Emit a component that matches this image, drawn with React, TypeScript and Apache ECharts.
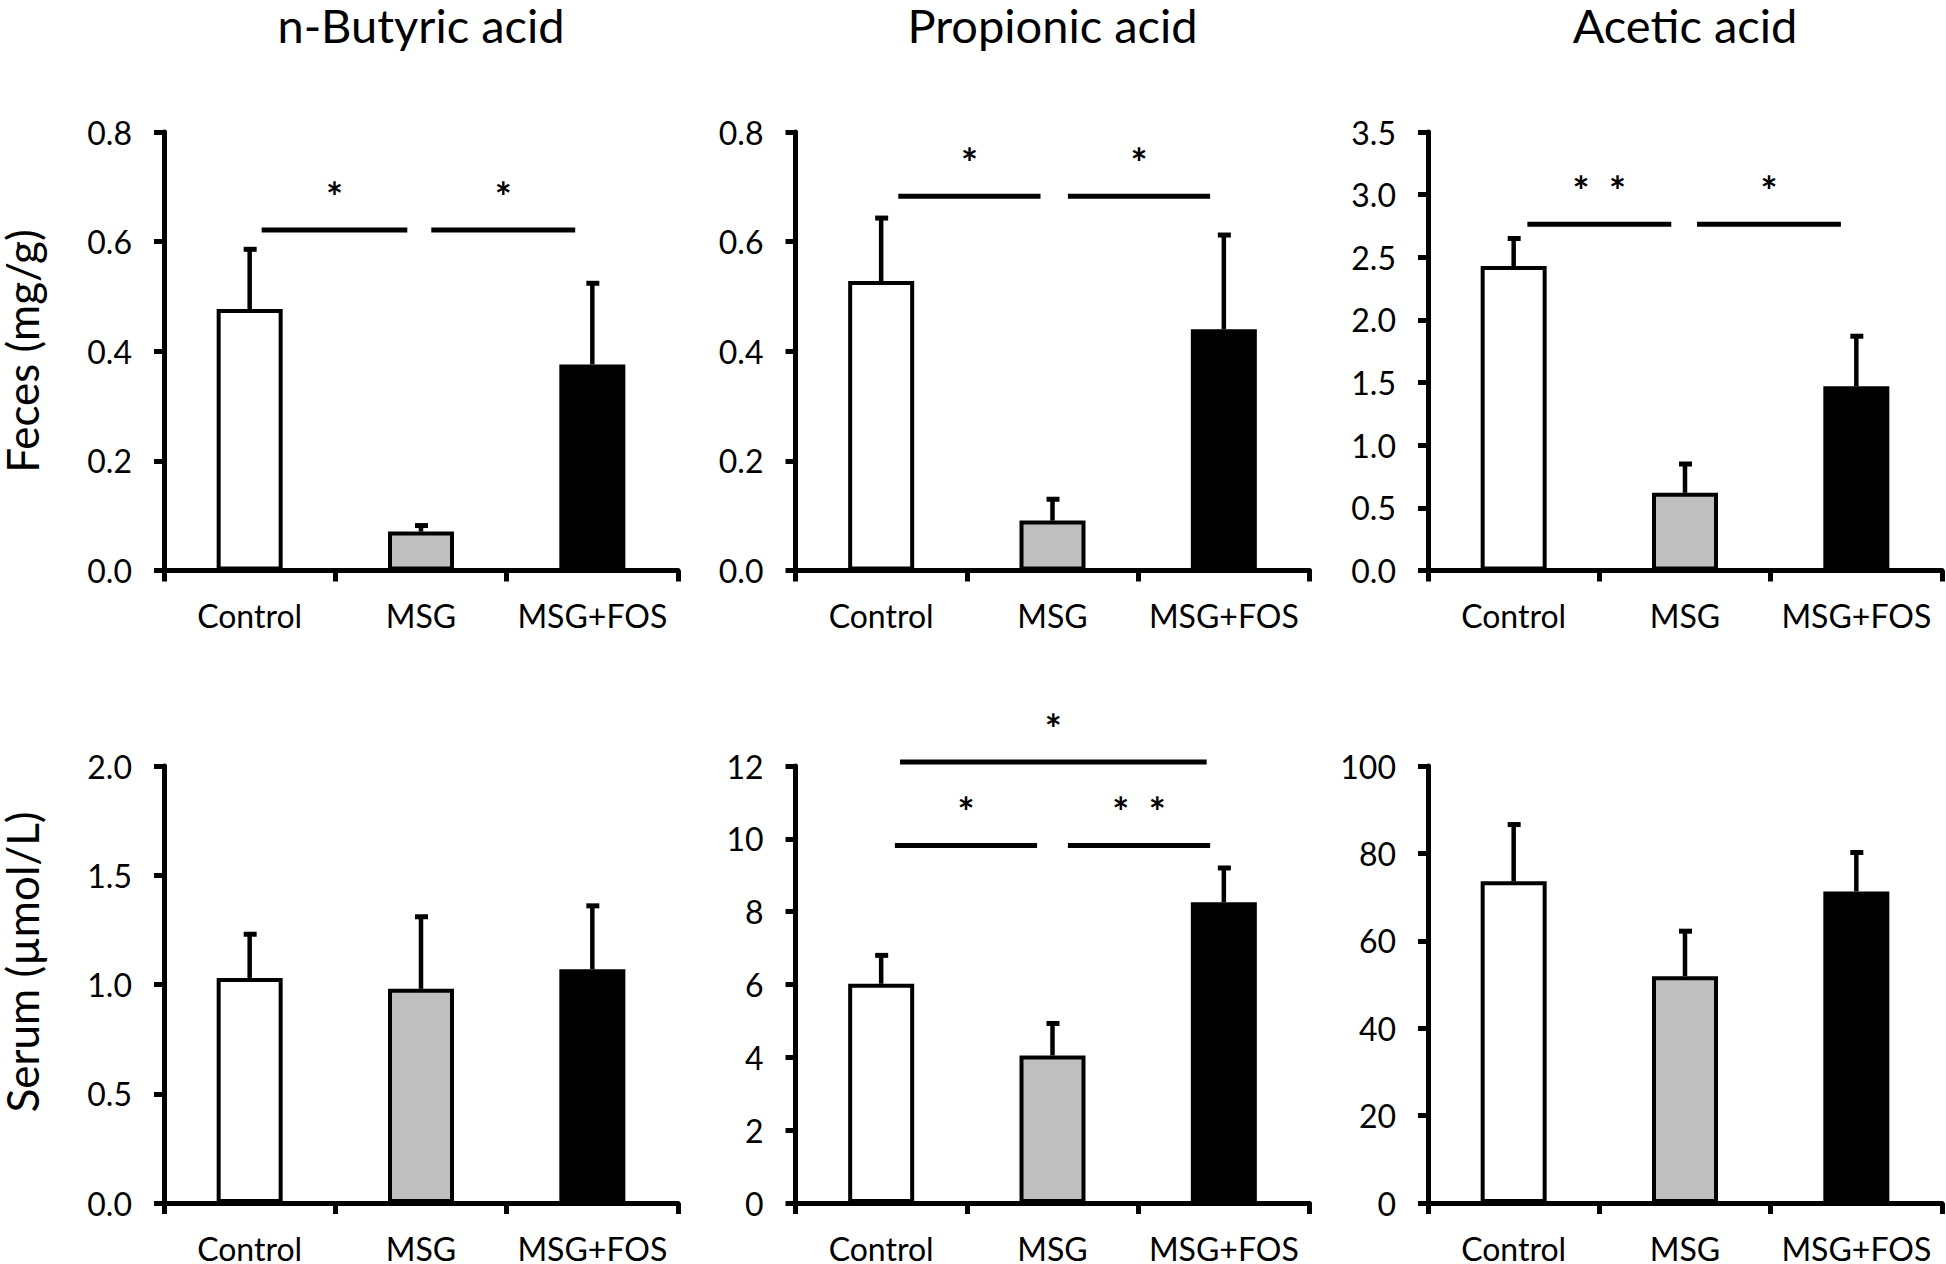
import React, { useEffect, useRef } from "react";
import * as echarts from "echarts";

const categories = ["Control", "MSG", "MSG+FOS"];
const titles = ["n-Butyric acid", "Propionic acid", "Acetic acid"];
const rowNames = ["Feces (mg/g)", "Serum (µmol/L)"];
const barFills = ["#ffffff", "#bfbfbf", "#000000"];

// Feces
const fecesButyricMean = [0.477, 0.071, 0.376];
const fecesButyricErr = [0.109, 0.011, 0.148];
const fecesPropionicMean = [0.528, 0.091, 0.44];
const fecesPropionicErr = [0.115, 0.039, 0.172];
const fecesAceticMean = [2.43, 0.62, 1.47];
const fecesAceticErr = [0.22, 0.23, 0.4];
// Serum
const serumButyricMean = [1.03, 0.98, 1.07];
const serumButyricErr = [0.2, 0.33, 0.29];
const serumPropionicMean = [6.02, 4.05, 8.26];
const serumPropionicErr = [0.78, 0.88, 0.94];
const serumAceticMean = [73.6, 51.9, 71.3];
const serumAceticErr = [13.0, 10.3, 8.9];

// y axis ranges
const yMax = [0.8, 0.8, 3.5, 2.0, 12, 100];
const yInterval = [0.2, 0.2, 0.5, 0.5, 2, 20];
const yDecimals = [1, 1, 1, 1, 0, 0];

// significance brackets: [fromIndex, toIndex, yValue]
const brackets1 = [[0.07, 0.92, 0.621], [1.06, 1.9, 0.621]];
const brackets2 = [[0.1, 0.93, 0.683], [1.09, 1.92, 0.683]];
const brackets3 = [[0.08, 0.92, 2.763], [1.07, 1.91, 2.763]];
const brackets5 = [[0.08, 0.91, 9.82], [1.09, 1.92, 9.82], [0.11, 1.9, 12.11]];
const bracketLabels1 = ["*", "*"];
const bracketLabels2 = ["*", "*"];
const bracketLabels3 = ["*  *", "*"];
const bracketLabels5 = ["*", "*  *", "*"];

const means = [fecesButyricMean, fecesPropionicMean, fecesAceticMean, serumButyricMean, serumPropionicMean, serumAceticMean];
const errs = [fecesButyricErr, fecesPropionicErr, fecesAceticErr, serumButyricErr, serumPropionicErr, serumAceticErr];
const brackets = [brackets1, brackets2, brackets3, [], brackets5, []];
const bracketLabels = [bracketLabels1, bracketLabels2, bracketLabels3, [], bracketLabels5, []];

const FONT = "Lato";
const gridLefts = [164, 795.5, 1428];
const gridTops = [132, 766];
const gridW = 514;
const gridH = 438.5;

export default function App() {
  const ref = useRef<HTMLDivElement>(null);
  useEffect(() => {
    if (!ref.current) return;
    const chart = echarts.init(ref.current, undefined, { renderer: "svg" });
    const grid: any[] = [];
    const xAxis: any[] = [];
    const yAxis: any[] = [];
    const series: any[] = [];
    for (let g = 0; g < 6; g++) {
      const col = g % 3;
      const row = Math.floor(g / 3);
      grid.push({ left: gridLefts[col], top: gridTops[row], width: gridW, height: gridH });
      xAxis.push({
        type: "category",
        gridIndex: g,
        data: categories,
        axisLine: { onZero: false, lineStyle: { color: "#000", width: 5 } },
        axisTick: { show: true, length: 11, lineStyle: { color: "#000", width: 5 } },
        axisLabel: { color: "#000", fontSize: 32, fontFamily: FONT, margin: 29, interval: 0 },
      });
      xAxis.push({ type: "value", gridIndex: g, min: -0.5, max: 2.5, show: false });
      const dec = yDecimals[g];
      yAxis.push({
        type: "value",
        gridIndex: g,
        min: 0,
        max: yMax[g],
        interval: yInterval[g],
        axisLine: { show: true, onZero: false, lineStyle: { color: "#000", width: 5 } },
        axisTick: { show: true, length: 10, lineStyle: { color: "#000", width: 5 } },
        splitLine: { show: false },
        axisLabel: {
          color: "#000",
          fontSize: 32,
          fontFamily: FONT,
          margin: 32,
          formatter: (v: number) => v.toFixed(dec),
        },
      });
      series.push({
        type: "bar",
        xAxisIndex: 2 * g,
        yAxisIndex: g,
        barWidth: 66,
        data: means[g].map((v, i) => ({
          value: v,
          itemStyle: { color: barFills[i], borderColor: "#000", borderWidth: 4 },
        })),
      });
      series.push({
        type: "custom",
        xAxisIndex: 2 * g + 1,
        yAxisIndex: g,
        z: 5,
        data: means[g].map((v, i) => [i, v, errs[g][i]]),
        renderItem: (params: any, api: any) => {
          const x = api.value(0);
          const m = api.value(1);
          const e = api.value(2);
          const p0 = api.coord([x, m]);
          const p1 = api.coord([x, m + e]);
          return {
            type: "group",
            children: [
              { type: "line", shape: { x1: p0[0], y1: p0[1], x2: p1[0], y2: p1[1] }, style: { stroke: "#000", lineWidth: 4.5 } },
              { type: "line", shape: { x1: p1[0] - 6, y1: p1[1], x2: p1[0] + 7, y2: p1[1] }, style: { stroke: "#000", lineWidth: 5 } },
            ],
          };
        },
      });
      if (brackets[g].length) {
        const labels = bracketLabels[g];
        series.push({
          type: "custom",
          xAxisIndex: 2 * g + 1,
          yAxisIndex: g,
          z: 6,
          clip: false,
          data: brackets[g],
          renderItem: (params: any, api: any) => {
            const a = api.coord([api.value(0), api.value(2)]);
            const b = api.coord([api.value(1), api.value(2)]);
            return {
              type: "group",
              children: [
                { type: "line", shape: { x1: a[0], y1: a[1], x2: b[0], y2: b[1] }, style: { stroke: "#000", lineWidth: 5 } },
                {
                  type: "text",
                  x: (a[0] + b[0]) / 2,
                  y: a[1] - 33,
                  style: {
                    text: labels[params.dataIndex],
                    fill: "#000",
                    fontSize: 40,
                    fontWeight: "bold",
                    fontFamily: FONT,
                    align: "center",
                    verticalAlign: "middle",
                  },
                },
              ],
            };
          },
        });
      }
    }
    const graphic: any[] = [];
    titles.forEach((t, i) => {
      graphic.push({
        type: "text",
        x: gridLefts[i] + gridW / 2,
        y: 25,
        style: { text: t, fill: "#000", fontSize: 47, fontFamily: FONT, align: "center", verticalAlign: "middle" },
      });
    });
    const nameY = [351, 962];
    rowNames.forEach((t, i) => {
      graphic.push({
        type: "text",
        x: 22,
        y: nameY[i],
        rotation: Math.PI / 2,
        style: { text: t, fill: "#000", fontSize: 44, fontFamily: FONT, align: "center", verticalAlign: "middle" },
      });
    });
    chart.setOption({
      animation: false,
      backgroundColor: "#ffffff",
      grid,
      xAxis,
      yAxis,
      series,
      graphic,
    });
    return () => chart.dispose();
  }, []);
  return <div ref={ref} style={{ position: "absolute", left: 0, top: 0, width: 1946, height: 1264 }} />;
}
